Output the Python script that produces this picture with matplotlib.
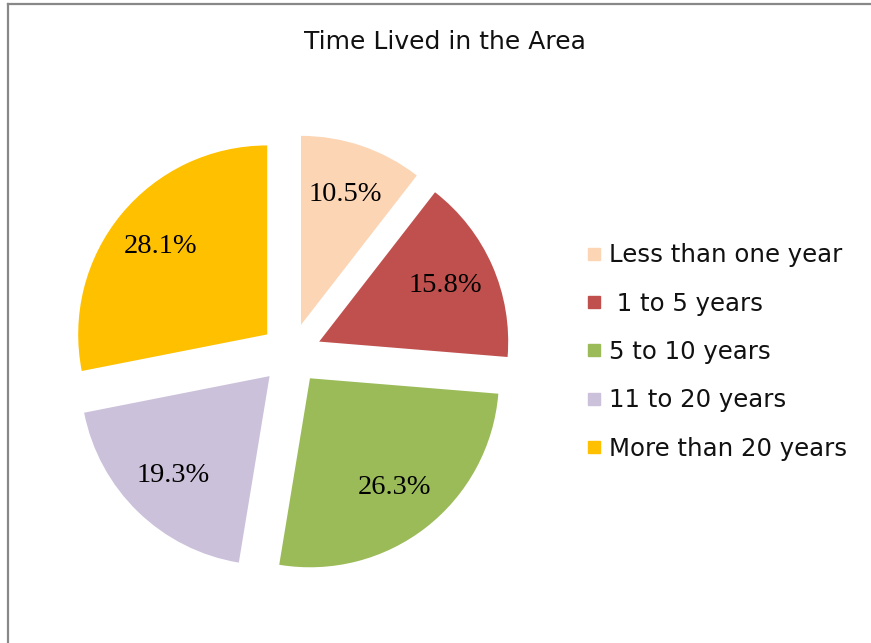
import matplotlib
matplotlib.use("Agg")
import matplotlib.pyplot as plt
from matplotlib.lines import Line2D

categories = ["Less than one year", " 1 to 5 years", "5 to 10 years",
              "11 to 20 years", "More than 20 years"]
values = [10.5, 15.8, 26.3, 19.3, 28.1]
colors = ["#FCD5B5", "#C0504D", "#9BBB59", "#CCC1DA", "#FFC000"]
title = "Time Lived in the Area"

W, H = 871, 643
fig = plt.figure(figsize=(W / 100, H / 100), dpi=100)

# pie axes: centre at (291, 354) px, radius 189 px
cx, cy, R = 291, 354, 189
L = 1.25
half = L * R
ax = fig.add_axes([(cx - half) / W, (H - cy - half) / H, 2 * half / W, 2 * half / H])
wedges, texts, autotexts = ax.pie(
    values, colors=colors, startangle=90, counterclock=False,
    explode=[0.163] * len(values), autopct="%.1f%%", pctdistance=0.73,
    wedgeprops=dict(linewidth=0),
    textprops=dict(fontsize=20.5, family="Liberation Serif", color="black"))
ax.set_xlim(-L, L)
ax.set_ylim(-L, L)
ax.set_aspect("equal")
ax.axis("off")

fig.text(445 / W, 1 - 42 / H, title, ha="center", va="center",
         fontsize=18, family="DejaVu Sans", color="#111111")

handles = [Line2D([], [], marker="s", linestyle="none", markersize=8.5,
                  markerfacecolor=c, markeredgecolor=c) for c in colors]
leg = fig.legend(handles, categories, loc="center left",
                 bbox_to_anchor=(585 / W, 1 - 352 / H), frameon=False,
                 prop=dict(family="DejaVu Sans", size=17.6),
                 handlelength=0.7, handletextpad=0.3, labelspacing=1.0,
                 borderaxespad=0, borderpad=0)
for t in leg.get_texts():
    t.set_color("#111111")

# chart frame lines (top and left)
fig.add_artist(Line2D([7.5 / W, 7.5 / W], [0, 1 - 3.5 / H], transform=fig.transFigure,
                      color="#888888", linewidth=1.6))
fig.add_artist(Line2D([7.5 / W, 1], [1 - 3.5 / H, 1 - 3.5 / H], transform=fig.transFigure,
                      color="#888888", linewidth=1.6))

fig.savefig("out.png", dpi=100)
